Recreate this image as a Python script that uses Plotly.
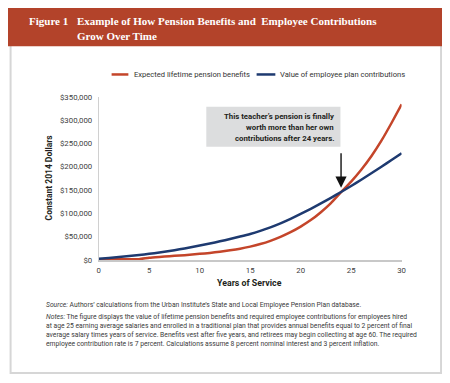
import plotly.graph_objects as go

# page is rendered with an 8px body margin; lay out in page pixels and shift
OFF = 8
W, H = 450 - OFF, 383 - OFF

years = list(range(0, 31))
pension_benefits = [1200, 1200, 1200, 1200, 1500, 4600, 6400, 7900, 9400, 11100,
                    13000, 15000, 17500, 20500, 24000, 28500, 34000, 41000, 49500, 59500,
                    71500, 85500, 102500, 122000, 145500, 168000, 193500, 222500, 256000, 294000,
                    334000]
employee_contrib = [2500, 4200, 6100, 8200, 10500, 13000, 15900, 19100, 22700, 26600,
                    30800, 35200, 39900, 44900, 50200, 55800, 62400, 70000, 78600, 88200,
                    98600, 109600, 121200, 133300, 145800, 158800, 172200, 186000, 200100, 214400,
                    229000]
series_names = ["Expected lifetime pension benefits", "Value of employee plan contributions"]
y_tick_vals = [0, 50000, 100000, 150000, 200000, 250000, 300000, 350000]
y_tick_text = ["$0", "$50,000", "$100,000", "$150,000", "$200,000", "$250,000", "$300,000", "$350,000"]
x_tick_vals = [0, 5, 10, 15, 20, 25, 30]

RED = "#C4452A"
BLUE = "#1E3A70"
HEAD = "#B3432A"
SANS = "Roboto, 'Liberation Sans', sans-serif"
SERIF = "'Liberation Serif', 'DejaVu Serif', serif"


def px(x):
    return (x - OFF) / W


def py(y):
    return 1 - (y - OFF) / H


fig = go.Figure()
fig.add_trace(go.Scatter(x=years, y=pension_benefits, mode="lines", name=series_names[0],
                         line=dict(color=RED, width=2.5, shape="spline", smoothing=0.5),
                         showlegend=False))
fig.add_trace(go.Scatter(x=years, y=employee_contrib, mode="lines", name=series_names[1],
                         line=dict(color=BLUE, width=2.5, shape="spline", smoothing=0.5),
                         showlegend=False))

shapes = []
# outer border
shapes.append(dict(type="rect", xref="paper", yref="paper", x0=px(8.6), x1=px(445), y0=py(378), y1=py(3),
                   line=dict(color="#D6D6D6", width=2), fillcolor="rgba(0,0,0,0)", layer="below"))
# header band
shapes.append(dict(type="rect", xref="paper", yref="paper", x0=px(2), x1=px(446), y0=py(43), y1=py(2),
                   line=dict(width=0), fillcolor=HEAD, layer="below"))
# annotation box
shapes.append(dict(type="rect", xref="paper", yref="paper", x0=px(207), x1=px(343), y0=py(146), y1=py(105),
                   line=dict(width=0), fillcolor="#DCDDDE", layer="below"))
# legend samples
shapes.append(dict(type="line", xref="paper", yref="paper", x0=px(111), x1=px(128), y0=py(72), y1=py(72),
                   line=dict(color=RED, width=2.5)))
shapes.append(dict(type="line", xref="paper", yref="paper", x0=px(258), x1=px(277), y0=py(72), y1=py(72),
                   line=dict(color=BLUE, width=2.5)))

ann = []
ann.append(dict(text="<b>Figure 1</b>", x=px(25), y=py(17), xref="paper", yref="paper",
                xanchor="left", yanchor="middle", showarrow=False,
                font=dict(family=SERIF, size=11, color="white")))
ann.append(dict(text="<b>Example of How Pension Benefits and  Employee Contributions</b>", x=px(74), y=py(17),
                xref="paper", yref="paper", xanchor="left", yanchor="middle", showarrow=False,
                font=dict(family=SERIF, size=11, color="white")))
ann.append(dict(text="<b>Grow Over Time</b>", x=px(74), y=py(33), xref="paper", yref="paper",
                xanchor="left", yanchor="middle", showarrow=False,
                font=dict(family=SERIF, size=11, color="white")))
# legend text
ann.append(dict(text=series_names[0], x=px(132), y=py(72), xref="paper", yref="paper",
                xanchor="left", yanchor="middle", showarrow=False,
                font=dict(family=SANS, size=7.6, color="#333333")))
ann.append(dict(text=series_names[1], x=px(280), y=py(72), xref="paper", yref="paper",
                xanchor="left", yanchor="middle", showarrow=False,
                font=dict(family=SANS, size=7.6, color="#333333")))
# callout text
for t, yy in [("This teacher\u2019s pension is finally", 115),
              ("worth more than her own", 126.5),
              ("contributions after 24 years.", 138)]:
    ann.append(dict(text="<b>" + t + "</b>", x=px(338), y=py(yy), xref="paper", yref="paper",
                    xanchor="right", yanchor="middle", showarrow=False,
                    font=dict(family=SANS, size=7.8, color="#231F20")))
# arrow
ann.append(dict(text="", x=24, y=155000, xref="x", yref="y", ax=0, ay=-36, axref="pixel", ayref="pixel",
                showarrow=True, arrowhead=2, arrowsize=1.6, arrowwidth=1.4, arrowcolor="#111111"))
# axis titles
ann.append(dict(text="<b>Constant 2014 Dollars</b>", x=px(47), y=py(177), xref="paper", yref="paper",
                textangle=-90, xanchor="center", yanchor="middle", showarrow=False,
                font=dict(family=SANS, size=8.5, color="#231F20")))
ann.append(dict(text="<b>Years of Service</b>", x=px(251), y=py(286), xref="paper", yref="paper",
                xanchor="center", yanchor="middle", showarrow=False,
                font=dict(family=SANS, size=8.8, color="#231F20")))
# source and notes
NOTE_FONT = dict(family=SANS, size=6.75, color="#3A3A3A")
notes = [
    ("<i>Source:</i> Authors\u2019 calculations from the Urban Institute\u2019s State and Local Employee Pension Plan database.", 308),
    ("<i>Notes:</i> The figure displays the value of lifetime pension benefits and required employee contributions for employees hired", 320.5),
    ("at age 25 earning average salaries and enrolled in a traditional plan that provides annual benefits equal to 2 percent of final", 329.8),
    ("average salary times years of service. Benefits vest after five years, and retirees may begin collecting at age 60. The required", 339),
    ("employee contribution rate is 7 percent. Calculations assume 8 percent nominal interest and 3 percent inflation.", 348.3),
]
for t, yy in notes:
    ann.append(dict(text=t, x=px(42), y=py(yy), xref="paper", yref="paper",
                    xanchor="left", yanchor="middle", showarrow=False, font=NOTE_FONT))

fig.update_layout(
    width=W, height=H,
    margin=dict(l=0, r=0, t=0, b=0),
    paper_bgcolor="white", plot_bgcolor="white",
    showlegend=False,
    shapes=shapes, annotations=ann,
    xaxis=dict(domain=[px(98), px(405)], range=[0, 30], tickvals=x_tick_vals,
               showgrid=False, zeroline=False, showline=True, linecolor="#C8C8C8", linewidth=2,
               ticks="", tickfont=dict(family=SANS, size=7.8, color="#404040"), ticklabelstandoff=2),
    yaxis=dict(domain=[py(262), py(95)], range=[0, 350000], tickvals=y_tick_vals, ticktext=y_tick_text,
               showgrid=False, zeroline=False, showline=True, linecolor="#D0D0D0", linewidth=1,
               ticks="", tickfont=dict(family=SANS, size=7.8, color="#404040"), ticklabelstandoff=4),
)

fig.write_html("out.html")
